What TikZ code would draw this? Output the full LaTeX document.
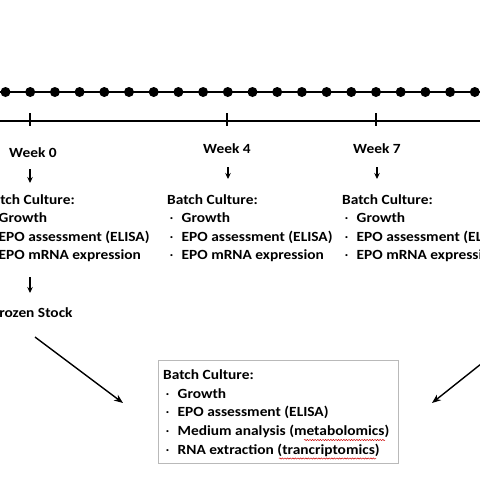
\documentclass[tikz,border=0pt]{standalone}
\usepackage{fontspec}
\setmainfont{Carlito}[FakeStretch=1.1]
\usetikzlibrary{arrows.meta,decorations.pathmorphing}
\newcommand{\bulA}{\hspace{2.5pt}\makebox[12pt][l]{\mdseries·}}
\begin{document}
\begin{tikzpicture}[x=1pt,y=-1pt,
  txt/.style={inner sep=0pt,font=\fontsize{14}{18.3}\selectfont\bfseries},
  txtb/.style={inner sep=0pt,font=\fontsize{14}{18.7}\selectfont\bfseries},
  vline/.style={line width=1.4pt,-{Stealth[length=6pt,width=5.5pt]}},
  diag/.style={line width=1.4pt,-{Stealth[length=9pt,width=7pt]}},
  spell/.style={red!80!black,line width=0.5pt,decorate,decoration={snake,amplitude=0.6pt,segment length=2.6pt}}]
\useasboundingbox (0,0) rectangle (480,480);
\fill[white] (0,0) rectangle (480,480);
% dotted top line
\draw[line width=1.6pt] (0,92) -- (480,92);
\foreach \i in {0,...,19} \fill (5.5+24.7*\i,92) circle (5);
% timeline
\draw[line width=2.6pt] (0,121) -- (480,121);
\foreach \x in {30,227,376} \draw[line width=2.4pt] (\x,113) -- (\x,126);
% week labels
\node[txt,anchor=base] (w0) at (33,157) {Week 0};
\node[txt,anchor=base] (w4) at (227,153) {Week 4};
\node[txt,anchor=base] (w7) at (377,153) {Week 7};
% blocks
\node[txt,anchor=base west] (b0) at (-16,204.5) {\begin{tabular}[t]{@{}l@{}}Batch Culture:\\ \bulA Growth\\ \bulA EPO assessment (ELISA)\\ \bulA EPO mRNA expression\end{tabular}};
\node[txt,anchor=base west] (b4) at (167,204.5) {\begin{tabular}[t]{@{}l@{}}Batch Culture:\\ \bulA Growth\\ \bulA EPO assessment (ELISA)\\ \bulA EPO mRNA expression\end{tabular}};
\node[txt,anchor=base west] (b7) at (342,204.5) {\begin{tabular}[t]{@{}l@{}}Batch Culture:\\ \bulA Growth\\ \bulA EPO assessment (ELISA)\\ \bulA EPO mRNA expression\end{tabular}};
\node[txt,anchor=base west] (frozen) at (-8,317) {Frozen Stock};
% vertical arrows
\draw[vline] (30,169) -- (30,183);
\draw[vline] (228,167) -- (228,179);
\draw[vline] (377,167) -- (377,179);
\draw[vline] (30,277) -- (30,293);
% bottom box
\node[draw=gray!55,line width=0.8pt,minimum width=240pt,minimum height=103pt,anchor=north west,inner sep=0pt] (box) at (158,360) {};
\node[txtb,anchor=base west] (bt) at (163,379.5) {\begin{tabular}[t]{@{}l@{}}Batch Culture:\\ \bulA Growth\\ \bulA EPO assessment (ELISA)\\ \bulA Medium analysis (metabolomics)\\ \bulA RNA extraction (trancriptomics)\end{tabular}};
\draw[spell] (304,440) -- (385,440);
\draw[spell] (279,458.5) -- (376,458.5);
% diagonal arrows
\coordinate (l1) at (35,337);
\coordinate (l2) at (123,403);
\coordinate (r1) at (481,364);
\coordinate (r2) at (432,403);
\draw[diag] (l1) -- (l2);
\draw[diag] (r1) -- (r2);
\end{tikzpicture}
\end{document}
